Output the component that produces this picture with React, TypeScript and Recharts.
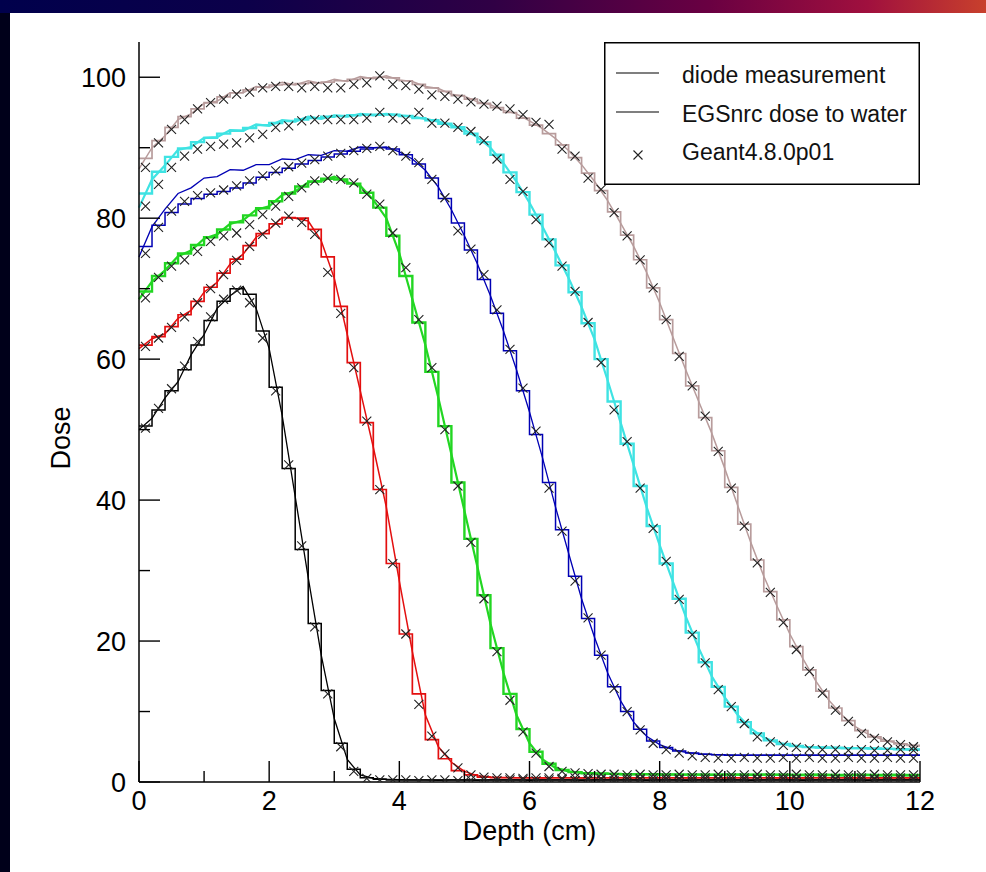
import { ComposedChart, Line, Scatter, XAxis, YAxis, Legend, Label } from "recharts"

// depth grid (cm): bin edges for the EGSnrc histograms / diode samples, bin centres for Geant4
const depthEdges = [
  0, 0.2, 0.4, 0.6, 0.8, 1, 1.2, 1.4, 1.6, 1.8,
  2, 2.2, 2.4, 2.6, 2.8, 3, 3.2, 3.4, 3.6, 3.8,
  4, 4.2, 4.4, 4.6, 4.8, 5, 5.2, 5.4, 5.6, 5.8,
  6, 6.2, 6.4, 6.6, 6.8, 7, 7.2, 7.4, 7.6, 7.8,
  8, 8.2, 8.4, 8.6, 8.8, 9, 9.2, 9.4, 9.6, 9.8,
  10, 10.2, 10.4, 10.6, 10.8, 11, 11.2, 11.4, 11.6, 11.8,
  12,
]
const binCentres = [
  0.1, 0.3, 0.5, 0.7, 0.9, 1.1, 1.3, 1.5, 1.7, 1.9,
  2.1, 2.3, 2.5, 2.7, 2.9, 3.1, 3.3, 3.5, 3.7, 3.9,
  4.1, 4.3, 4.5, 4.7, 4.9, 5.1, 5.3, 5.5, 5.7, 5.9,
  6.1, 6.3, 6.5, 6.7, 6.9, 7.1, 7.3, 7.5, 7.7, 7.9,
  8.1, 8.3, 8.5, 8.7, 8.9, 9.1, 9.3, 9.5, 9.7, 9.9,
  10.1, 10.3, 10.5, 10.7, 10.9, 11.1, 11.3, 11.5, 11.7, 11.9,
]
const xTicks = [0, 1, 2, 3, 4, 5, 6, 7, 8, 9, 10, 11, 12]
const yTicks = [0, 10, 20, 30, 40, 50, 60, 70, 80, 90, 100]

// diode measurement (at depthEdges)
const diodeBlack = [
  50.0, 51.6, 54.5, 56.8, 60.6, 63.5, 67.2, 69.0, 70.3, 67.2,
  61.5, 52.0, 40.5, 29.0, 18.0, 9.0, 3.2, 1.0, 0.5, 0.4,
  0.35, 0.3, 0.3, 0.25, 0.3, 0.3, 0.25, 0.3, 0.3, 0.3,
  0.25, 0.3, 0.3, 0.3, 0.25, 0.3, 0.3, 0.3, 0.3, 0.25,
  0.3, 0.3, 0.25, 0.3, 0.3, 0.3, 0.3, 0.25, 0.3, 0.3,
  0.3, 0.25, 0.3, 0.3, 0.3, 0.3, 0.25, 0.3, 0.3, 0.3,
  0.3,
]
const diodeRed = [
  61.5, 62.9, 63.6, 65.8, 66.9, 69.5, 70.9, 73.5, 74.9, 77.3,
  78.4, 80.1, 80.0, 79.6, 76.8, 71.5, 63.5, 55.5, 47.5, 39.0,
  28.5, 18.5, 9.5, 5.0, 2.8, 1.5, 0.9, 0.7, 0.65, 0.6,
  0.6, 0.55, 0.6, 0.6, 0.55, 0.6, 0.6, 0.6, 0.55, 0.6,
  0.6, 0.6, 0.55, 0.6, 0.6, 0.55, 0.6, 0.6, 0.6, 0.55,
  0.6, 0.55, 0.6, 0.6, 0.6, 0.55, 0.6, 0.55, 0.6, 0.55,
  0.55,
]
const diodeGreen = [
  68.5, 71.0, 72.6, 74.6, 75.4, 77.1, 77.7, 79.2, 79.7, 81.2,
  81.7, 83.3, 83.8, 85.1, 85.3, 85.9, 85.1, 84.6, 82.6, 80.0,
  75.0, 68.5, 62.0, 54.5, 46.5, 38.5, 30.5, 22.5, 15.5, 9.5,
  5.5, 3.2, 2.0, 1.5, 1.3, 1.2, 1.15, 1.1, 1.1, 1.1,
  1.05, 1.1, 1.05, 1.05, 1.0, 1.05, 1.05, 1.0, 1.05, 1.0,
  1.0, 1.0, 1.05, 1.0, 0.95, 1.0, 1.0, 0.95, 1.0, 0.95,
  0.95,
]
const diodeBlue = [
  74.5, 78.8, 81.3, 83.5, 84.3, 85.7, 85.9, 86.9, 86.8, 87.6,
  87.6, 88.4, 88.3, 89.0, 88.9, 89.6, 89.5, 90.1, 90.0, 90.1,
  89.4, 88.4, 86.8, 84.4, 81.2, 77.5, 73.5, 69.0, 64.0, 58.5,
  52.5, 46.0, 39.0, 32.5, 26.0, 20.5, 15.5, 11.5, 8.5, 6.5,
  5.3, 4.6, 4.2, 4.0, 3.9, 3.85, 3.8, 3.8, 3.8, 3.8,
  3.8, 3.8, 3.8, 3.8, 3.8, 3.8, 3.8, 3.8, 3.8, 3.8,
  3.8,
]
const diodeCyan = [
  81.5, 85.5, 87.5, 89.7, 90.1, 91.4, 91.5, 92.5, 92.4, 93.3,
  93.1, 93.9, 93.7, 94.4, 94.1, 94.6, 94.4, 94.8, 94.6, 94.8,
  94.6, 94.4, 94.1, 93.7, 93.2, 92.5, 91.5, 90.0, 87.8, 85.2,
  82.2, 78.8, 75.2, 71.5, 67.4, 62.8, 57.0, 51.0, 45.0, 39.0,
  33.6, 28.5, 23.5, 19.0, 15.0, 12.0, 9.5, 7.6, 6.3, 5.6,
  5.2, 5.0, 4.9, 4.85, 4.8, 4.8, 4.75, 4.7, 4.7, 4.65,
  4.6,
]
const diodeGray = [
  87.0, 90.0, 91.7, 94.0, 94.8, 96.3, 96.6, 97.8, 97.8, 98.7,
  98.5, 99.3, 98.9, 99.5, 99.1, 99.7, 99.4, 100.1, 99.8, 100.2,
  99.6, 99.4, 98.7, 98.4, 97.6, 97.3, 96.5, 96.1, 95.3, 94.8,
  93.8, 92.7, 91.3, 89.6, 87.6, 85.2, 82.5, 79.3, 76.0, 72.3,
  68.0, 63.2, 58.5, 54.0, 49.5, 44.5, 39.2, 34.0, 29.2, 25.0,
  21.0, 17.5, 14.3, 11.6, 9.5, 7.9, 6.8, 6.1, 5.6, 5.3,
  5.1,
]

// EGSnrc dose to water, one value per 0.2 cm bin
const egsBlack = [
  50.5, 52.8, 55.5, 58.5, 62.0, 65.5, 68.2, 70.0, 69.2, 64.0,
  56.0, 44.5, 33.0, 22.5, 13.0, 5.5, 1.8, 0.6, 0.4, 0.3,
  0.3, 0.3, 0.3, 0.3, 0.3, 0.3, 0.3, 0.3, 0.3, 0.3,
  0.3, 0.3, 0.3, 0.3, 0.3, 0.3, 0.3, 0.3, 0.3, 0.3,
  0.3, 0.3, 0.3, 0.3, 0.3, 0.3, 0.3, 0.3, 0.3, 0.3,
  0.3, 0.3, 0.3, 0.3, 0.3, 0.3, 0.3, 0.3, 0.3, 0.3,
]
const egsRed = [
  62.0, 63.2, 64.6, 66.3, 68.2, 70.2, 72.2, 74.2, 76.1, 77.8,
  79.2, 80.1, 80.0, 78.4, 74.5, 67.5, 59.5, 51.0, 41.5, 31.0,
  21.0, 12.5, 6.0, 3.3, 1.6, 1.0, 0.7, 0.6, 0.6, 0.6,
  0.6, 0.6, 0.6, 0.6, 0.6, 0.6, 0.6, 0.6, 0.6, 0.6,
  0.6, 0.6, 0.6, 0.6, 0.6, 0.6, 0.6, 0.6, 0.6, 0.6,
  0.6, 0.6, 0.6, 0.6, 0.6, 0.6, 0.6, 0.6, 0.6, 0.6,
]
const egsGreen = [
  69.6, 71.8, 73.6, 75.0, 76.2, 77.3, 78.4, 79.4, 80.4, 81.4,
  82.4, 83.5, 84.5, 85.2, 85.6, 85.5, 84.9, 83.6, 81.5, 77.5,
  71.8, 65.2, 58.2, 50.5, 42.5, 34.5, 26.5, 19.0, 12.5, 7.5,
  4.3, 2.6, 1.7, 1.4, 1.25, 1.2, 1.15, 1.1, 1.1, 1.1,
  1.05, 1.05, 1.05, 1.05, 1.05, 1.05, 1.05, 1.05, 1.05, 1.05,
  1.0, 1.0, 1.0, 1.0, 1.0, 1.0, 1.0, 1.0, 1.0, 1.0,
]
const egsBlue = [
  76.0, 79.0, 80.8, 82.0, 82.8, 83.4, 83.8, 84.3, 85.0, 85.8,
  86.5, 87.1, 87.7, 88.2, 88.7, 89.1, 89.5, 89.8, 90.0, 89.8,
  89.0, 87.7, 85.7, 82.8, 79.3, 75.5, 71.3, 66.5, 61.2, 55.5,
  49.3, 42.5, 35.8, 29.2, 23.2, 18.0, 13.5, 10.0, 7.5, 5.8,
  4.9, 4.4, 4.1, 3.95, 3.85, 3.8, 3.8, 3.8, 3.8, 3.8,
  3.8, 3.8, 3.8, 3.8, 3.8, 3.8, 3.8, 3.8, 3.8, 3.8,
]
const egsCyan = [
  83.5, 86.6, 88.7, 89.9, 90.8, 91.4, 92.0, 92.4, 92.8, 93.2,
  93.5, 93.8, 94.0, 94.2, 94.4, 94.5, 94.6, 94.7, 94.7, 94.7,
  94.5, 94.2, 93.9, 93.4, 92.9, 92.0, 90.8, 89.0, 86.5, 83.7,
  80.5, 77.0, 73.3, 69.5, 65.1, 60.0, 54.0, 48.0, 42.0, 36.3,
  31.0, 26.0, 21.2, 17.0, 13.5, 10.7, 8.5, 6.9, 5.9, 5.4,
  5.1, 4.95, 4.9, 4.85, 4.8, 4.8, 4.75, 4.7, 4.65, 4.6,
]
const egsGray = [
  88.5, 91.0, 92.9, 94.4, 95.5, 96.4, 97.2, 97.8, 98.2, 98.6,
  98.9, 99.0, 99.1, 99.2, 99.3, 99.5, 99.7, 99.9, 100.0, 99.9,
  99.5, 99.0, 98.5, 98.0, 97.4, 96.9, 96.3, 95.7, 95.0, 94.2,
  93.2, 92.0, 90.4, 88.6, 86.4, 83.9, 80.9, 77.6, 74.1, 70.1,
  65.6, 60.8, 56.2, 51.7, 47.0, 41.8, 36.6, 31.5, 27.0, 23.0,
  19.2, 15.9, 12.9, 10.5, 8.7, 7.3, 6.4, 5.8, 5.4, 5.2,
]

// Geant4.8.0p01 (at binCentres)
const g4Black = [
  50.2, 53.0, 55.8, 59.0, 62.5, 66.0, 68.5, 69.8, 68.0, 63.0,
  55.5, 45.0, 33.5, 22.0, 12.5, 5.0, 1.5, 0.5, 0.3, 0.3,
  0.3, 0.2, 0.3, 0.3, 0.2, 0.3, 0.3, 0.2, 0.3, 0.3,
  0.2, 0.3, 0.3, 0.2, 0.3, 0.3, 0.2, 0.3, 0.3, 0.2,
  0.3, 0.3, 0.2, 0.3, 0.3, 0.2, 0.3, 0.3, 0.2, 0.3,
  0.3, 0.2, 0.3, 0.3, 0.2, 0.3, 0.3, 0.2, 0.3, 0.3,
]
const g4Red = [
  61.8, 63.0, 64.5, 66.0, 68.0, 70.0, 72.0, 74.0, 76.0, 77.7,
  79.3, 80.3, 79.4, 77.7, 72.3, 66.5, 58.8, 51.2, 41.5, 31.0,
  21.0, 11.0, 6.5, 4.0, 2.0, 1.0, 0.7, 0.6, 0.6, 0.5,
  0.6, 0.6, 0.5, 0.6, 0.6, 0.5, 0.6, 0.6, 0.5, 0.6,
  0.6, 0.5, 0.6, 0.6, 0.5, 0.6, 0.6, 0.5, 0.6, 0.6,
  0.5, 0.6, 0.6, 0.5, 0.6, 0.6, 0.5, 0.6, 0.6, 0.5,
]
const g4Green = [
  68.7, 71.6, 73.2, 74.1, 75.3, 76.7, 77.5, 77.9, 79.1, 80.5,
  81.7, 83.1, 84.3, 85.3, 85.7, 85.5, 85.0, 83.4, 82.0, 77.9,
  73.0, 65.6, 58.8, 50.0, 42.0, 34.0, 26.0, 18.5, 11.6, 7.1,
  4.1, 2.2, 1.5, 1.3, 1.2, 1.1, 1.1, 1.0, 1.1, 1.0,
  1.0, 1.1, 1.0, 1.0, 1.1, 1.0, 1.0, 1.1, 1.0, 1.0,
  1.1, 1.0, 1.0, 1.1, 1.0, 1.0, 1.1, 1.0, 1.0, 1.0,
]
const g4Blue = [
  75.0, 78.7, 81.0, 82.4, 83.2, 83.6, 84.0, 84.6, 85.3, 86.0,
  86.7, 87.3, 87.8, 88.3, 88.8, 89.2, 89.6, 89.9, 90.2, 89.6,
  88.8, 87.9, 85.5, 82.9, 78.2, 75.6, 72.0, 67.0, 61.4, 55.9,
  49.8, 41.7, 35.6, 28.5, 23.3, 18.0, 13.3, 10.0, 7.4, 5.5,
  4.6, 4.1, 3.7, 3.5, 3.4, 3.4, 3.5, 3.4, 3.4, 3.5,
  3.4, 3.5, 3.4, 3.4, 3.5, 3.4, 3.4, 3.5, 3.4, 3.4,
]
const g4Cyan = [
  81.7, 84.8, 87.2, 88.8, 89.8, 90.2, 90.5, 90.7, 91.4, 91.9,
  92.9, 93.1, 93.8, 94.0, 94.0, 94.0, 94.0, 94.2, 95.0, 94.2,
  94.0, 95.0, 93.5, 93.5, 92.9, 92.3, 91.0, 88.4, 85.5, 83.8,
  79.8, 76.5, 73.2, 69.6, 65.2, 59.5, 52.8, 48.3, 41.7, 36.0,
  31.3, 25.9, 20.9, 16.9, 13.1, 10.7, 8.3, 6.4, 5.7, 5.2,
  4.9, 4.7, 4.6, 4.6, 4.5, 4.6, 4.5, 4.5, 4.6, 4.5,
]
const g4Gray = [
  87.2, 90.7, 92.6, 94.0, 95.5, 96.4, 96.9, 97.6, 97.9, 98.5,
  98.7, 98.7, 98.5, 98.7, 98.5, 98.5, 99.0, 99.2, 100.2, 99.0,
  98.8, 98.3, 97.5, 97.3, 96.9, 96.5, 96.2, 95.9, 95.5, 94.7,
  93.6, 93.3, 89.8, 88.8, 85.7, 84.1, 80.8, 77.5, 74.1, 70.1,
  65.6, 60.4, 56.2, 51.9, 46.9, 41.7, 36.3, 31.1, 26.9, 22.6,
  18.8, 15.7, 12.6, 10.2, 8.6, 6.9, 6.2, 5.7, 5.3, 5.0,
]

const beams = [
  { id: "black", color: "#000000", width: 1.3, diode: diodeBlack, egs: egsBlack, g4: g4Black },
  { id: "red", color: "#e30f0f", width: 1.5, diode: diodeRed, egs: egsRed, g4: g4Red },
  { id: "green", color: "#22d622", width: 2.2, diode: diodeGreen, egs: egsGreen, g4: g4Green },
  { id: "blue", color: "#0000b4", width: 1.3, diode: diodeBlue, egs: egsBlue, g4: g4Blue },
  { id: "cyan", color: "#3fe3e3", width: 2.2, diode: diodeCyan, egs: egsCyan, g4: g4Cyan },
  { id: "gray", color: "#b89c9c", width: 1.5, diode: diodeGray, egs: egsGray, g4: g4Gray },
]

const FONT = '"Liberation Sans", Arial, Helvetica, sans-serif'

const pointRows = (xs: number[], ys: number[]) => xs.map((x, i) => ({ x, y: ys[i] }))
// histogram drawn with stepAfter: one row per left edge, last edge repeats the final bin
const stepRows = (ys: number[]) => depthEdges.map((x, i) => ({ x, y: ys[Math.min(i, ys.length - 1)] }))

function Cross(props: any) {
  const { cx, cy } = props
  if (cx == null || cy == null) return null
  const s = 4.5
  return (
    <path
      d={`M${cx - s},${cy - s}L${cx + s},${cy + s}M${cx - s},${cy + s}L${cx + s},${cy - s}`}
      stroke="#222"
      strokeWidth={1.1}
      fill="none"
    />
  )
}

function BottomTick({ x, y, payload }: any) {
  const v = payload.value
  const major = v % 2 === 0
  return (
    <g>
      <line x1={x} x2={x} y1={y} y2={y - (major ? 21 : 11)} stroke="#000" strokeWidth={1.4} />
      {major && (
        <text x={x} y={y + 28} textAnchor="middle" fontSize={27} fontFamily={FONT} fill="#000">
          {v}
        </text>
      )}
    </g>
  )
}

function TopTick({ x, y, payload }: any) {
  const major = payload.value % 2 === 0
  return <line x1={x} x2={x} y1={y} y2={y + (major ? 21 : 11)} stroke="#000" strokeWidth={1.4} />
}

function LeftTick({ x, y, payload }: any) {
  const v = payload.value
  const major = v % 20 === 0
  return (
    <g>
      <line x1={x} x2={x + (major ? 21 : 11)} y1={y} y2={y} stroke="#000" strokeWidth={1.4} />
      {major && (
        <text x={x - 13} y={y + 10} textAnchor="end" fontSize={27} fontFamily={FONT} fill="#000">
          {v}
        </text>
      )}
    </g>
  )
}

function RightTick({ x, y, payload }: any) {
  const major = payload.value % 20 === 0
  return <line x1={x} x2={x - (major ? 21 : 11)} y1={y} y2={y} stroke="#000" strokeWidth={1.4} />
}

function LegendBox() {
  const text = { fontSize: 23, fontFamily: FONT, fill: "#111" }
  return (
    <svg width={316} height={143} style={{ display: "block" }}>
      <rect x={0.75} y={0.75} width={314.5} height={141.5} fill="#fff" stroke="#000" strokeWidth={1.5} />
      <line x1={12} x2={55} y1={31} y2={31} stroke="#000" strokeWidth={1.2} />
      <text x={78} y={41} {...text}>diode measurement</text>
      <line x1={12} x2={55} y1={70} y2={70} stroke="#000" strokeWidth={1.2} />
      <text x={78} y={80} {...text}>EGSnrc dose to water</text>
      <Cross cx={34} cy={113} />
      <text x={78} y={118} {...text}>Geant4.8.0p01</text>
    </svg>
  )
}

export default function App() {
  const axisLine = { stroke: "#000", strokeWidth: 1.5 }
  return (
    <div style={{ position: "absolute", left: 0, top: 0, width: 986, height: 872, background: "#fff", overflow: "hidden" }}>
      <div
        style={{
          position: "absolute",
          left: 0,
          top: 0,
          width: 986,
          height: 13,
          background: "linear-gradient(to right, #00004c 0%, #0c004a 25%, #300045 50%, #6a0042 72%, #a0103e 88%, #c8402c 100%)",
        }}
      />
      <div style={{ position: "absolute", left: 0, top: 13, width: 10, height: 859, background: "#00001a" }} />
      <div style={{ position: "absolute", left: 0, top: 0 }}>
        <ComposedChart width={986} height={872} margin={{ top: 42, right: 66, bottom: 30, left: 59 }}>
          <XAxis
            dataKey="x"
            type="number"
            domain={[0, 12]}
            ticks={xTicks}
            interval={0}
            height={60}
            tickSize={0}
            tickMargin={0}
            tickLine={false}
            axisLine={axisLine}
            tick={BottomTick}
          >
            <Label
              content={() => (
                <text x={529.5} y={840} textAnchor="middle" fontSize={27} fontFamily={FONT} fill="#000">
                  Depth (cm)
                </text>
              )}
            />
          </XAxis>
          <XAxis
            xAxisId="top"
            orientation="top"
            dataKey="x"
            type="number"
            domain={[0, 12]}
            ticks={xTicks}
            interval={0}
            height={0}
            tickSize={0}
            tickMargin={0}
            tickLine={false}
            axisLine={axisLine}
            tick={TopTick}
            allowDataOverflow
          />
          <YAxis
            type="number"
            domain={[0, 105]}
            ticks={yTicks}
            interval={0}
            width={80}
            tickSize={0}
            tickMargin={0}
            tickLine={false}
            axisLine={axisLine}
            tick={LeftTick}
            allowDataOverflow
          >
            <Label
              content={() => (
                <text x={70} y={438} transform="rotate(-90 70 438)" textAnchor="middle" fontSize={27} fontFamily={FONT} fill="#000">
                  Dose
                </text>
              )}
            />
          </YAxis>
          <YAxis
            yAxisId="right"
            orientation="right"
            type="number"
            domain={[0, 105]}
            ticks={yTicks}
            interval={0}
            width={0}
            tickSize={0}
            tickMargin={0}
            tickLine={false}
            axisLine={axisLine}
            tick={RightTick}
            allowDataOverflow
          />

          {beams.map((b) => (
            <Line
              key={`egs-${b.id}`}
              data={stepRows(b.egs)}
              dataKey="y"
              type="stepAfter"
              stroke={b.color}
              strokeWidth={b.width + 0.2}
              dot={false}
              activeDot={false}
              isAnimationActive={false}
            />
          ))}
          {beams.map((b) => (
            <Line
              key={`diode-${b.id}`}
              data={pointRows(depthEdges, b.diode)}
              dataKey="y"
              type="linear"
              stroke={b.color}
              strokeWidth={b.width}
              dot={false}
              activeDot={false}
              isAnimationActive={false}
            />
          ))}
          {beams.map((b) => (
            <Scatter
              key={`g4-${b.id}`}
              data={pointRows(binCentres, b.g4)}
              dataKey="y"
              shape={Cross}
              isAnimationActive={false}
            />
          ))}

          <Legend
            layout="horizontal"
            verticalAlign="middle"
            align="center"
            wrapperStyle={{ position: "absolute", left: 604, top: 42, width: 316, height: 143 }}
            content={() => <LegendBox />}
          />
        </ComposedChart>
      </div>
    </div>
  )
}
